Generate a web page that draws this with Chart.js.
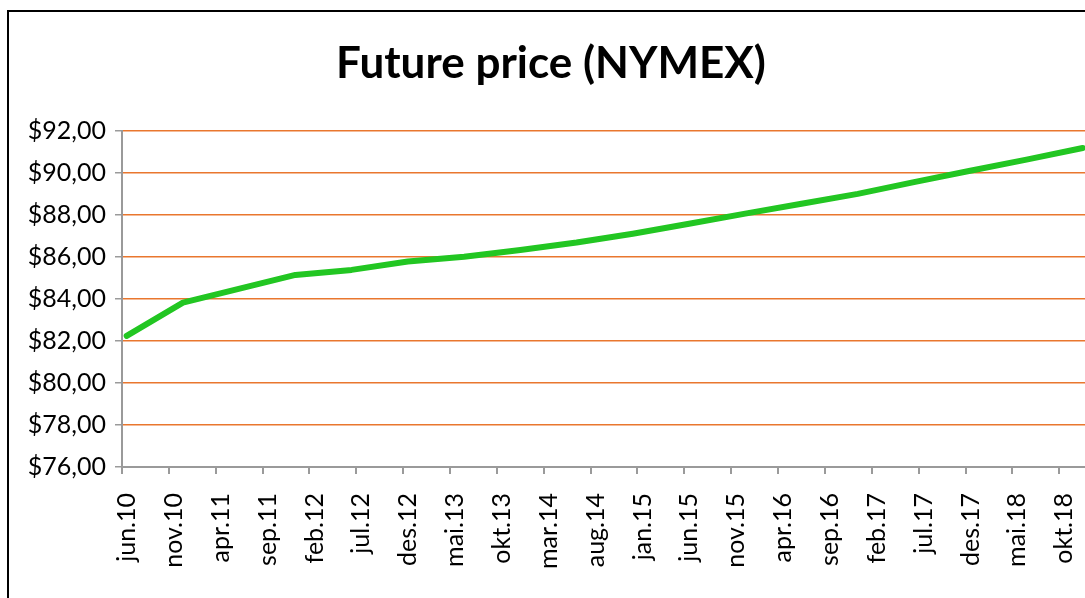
<!DOCTYPE html>
<html>
<head>
<meta charset="utf-8">
<script src="https://cdn.jsdelivr.net/npm/chart.js@4/dist/chart.umd.min.js"></script>
<style>
    html, body { margin: 0; padding: 0; background: #fff; overflow: hidden; width: 1085px; height: 598px; }
    #box { position: absolute; left: 7px; top: 10px; border: 2px solid #000; background: #fff; }
    #futureChart { display: block; }
</style>
</head>
<body>
<div id="box"><canvas id="futureChart" width="1084" height="640"></canvas></div>
<script>
// Contract months, counted in months from jun.10 (mid month)
var contractMonth = [0.5, 6.5, 18.5, 24.5, 30.5, 36.5, 42.5, 48.5, 54.5, 60.5, 66.5, 72.5, 78.5, 84.5, 90.5, 96.5, 102.5];
// Future price in USD
var futurePrice = [82.24, 83.82, 85.14, 85.38, 85.78, 86.01, 86.33, 86.68, 87.10, 87.58, 88.06, 88.53, 89.00, 89.56, 90.10, 90.63, 91.18];
// Labels on the x axis, one every fifth month
var monthLabels = ['jun.10', 'nov.10', 'apr.11', 'sep.11', 'feb.12', 'jul.12', 'des.12', 'mai.13', 'okt.13', 'mar.14',
    'aug.14', 'jan.15', 'jun.15', 'nov.15', 'apr.16', 'sep.16', 'feb.17', 'jul.17', 'des.17', 'mai.18', 'okt.18'];

var points = contractMonth.map(function (m, i) {
    return { x: m, y: futurePrice[i] };
});

var axisGrey = '#9a9a9a';
var labelFont = { family: 'Lato', size: 25 };

new Chart(document.getElementById('futureChart'), {
    type: 'line',
    data: {
        datasets: [{
            data: points,
            borderColor: '#22c622',
            borderWidth: 6,
            pointRadius: 0,
            tension: 0,
            borderCapStyle: 'round',
            borderJoinStyle: 'round'
        }]
    },
    options: {
        responsive: false,
        animation: false,
        devicePixelRatio: 1,
        layout: { padding: { left: 0, right: 0, top: 0, bottom: 0 } },
        plugins: {
            legend: { display: false },
            tooltip: { enabled: false },
            title: {
                display: true,
                text: 'Future price (NYMEX)',
                color: '#000',
                font: { family: 'Lato', size: 44, weight: 'bold' },
                padding: { top: 25, bottom: 41 }
            }
        },
        scales: {
            x: {
                type: 'linear',
                min: 0,
                max: 103.6,
                afterBuildTicks: function (scale) {
                    scale.ticks = scale.ticks.filter(function (t) { return t.value % 5 === 0; });
                },
                afterFit: function (scale) {
                    scale.height = 185;
                    scale.paddingRight = 0;
                },
                grid: { display: true, drawOnChartArea: false, drawTicks: true, tickLength: 7, color: axisGrey, lineWidth: 2 },
                border: { display: true, color: axisGrey, width: 2 },
                ticks: {
                    stepSize: 5,
                    autoSkip: false,
                    maxRotation: 90,
                    minRotation: 90,
                    padding: 19,
                    labelOffset: 5,
                    color: '#000',
                    font: labelFont,
                    callback: function (v) {
                        var label = monthLabels[v / 5];
                        return label === undefined ? '' : label;
                    }
                }
            },
            y: {
                min: 76,
                max: 92,
                afterFit: function (scale) { scale.width = 113; },
                grid: { color: '#e9772e', lineWidth: 1.5, tickColor: axisGrey, tickLength: 7 },
                border: { display: true, color: axisGrey, width: 2 },
                ticks: {
                    stepSize: 2,
                    padding: 9,
                    color: '#000',
                    font: labelFont,
                    callback: function (v) {
                        return '$' + v.toFixed(2).replace('.', ',');
                    }
                }
            }
        }
    }
});
</script>
</body>
</html>
